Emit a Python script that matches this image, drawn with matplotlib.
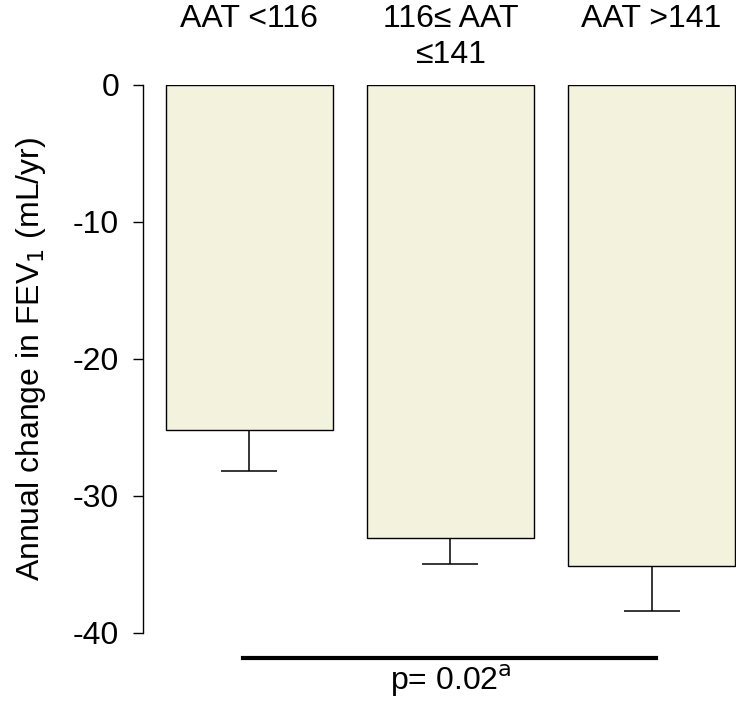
import matplotlib.pyplot as plt
from matplotlib import transforms

plt.rcParams['font.family'] = ['Liberation Sans', 'DejaVu Sans']

# data
groups = ["AAT <116", "116\u2264 AAT\n\u2264141", "AAT >141"]
change = [-25.2, -33.1, -35.1]
err = [3.0, 1.9, 3.3]
yticks = [0, -10, -20, -30, -40]
p_text = "p= 0.02$^{\\mathrm{a}}$"

fig = plt.figure(figsize=(7.36, 7.02), dpi=100)
ax = fig.add_axes([0.194, 0.0983, 0.806, 0.7807])

x = range(len(groups))
ax.bar(x, change, width=0.83, color="#f3f2dc", edgecolor="black", linewidth=1.0)
eb = ax.errorbar(x, change, yerr=[err, [0] * len(err)], fmt="none", ecolor="black",
                 elinewidth=1.1, capsize=20, capthick=1.1)
# only the lower cap is shown
eb[1][1].set_visible(False)

ax.set_xlim(-0.53, 2.42)
ax.set_ylim(-40, 0)
ax.set_yticks(yticks)
ax.set_yticklabels([str(t) for t in yticks], fontsize=23)
ax.tick_params(axis="y", length=7, width=1, pad=10)
ax.set_xticks([])
for s in ["top", "right", "bottom"]:
    ax.spines[s].set_visible(False)
ax.spines["left"].set_linewidth(1.0)

ax.set_ylabel("Annual change in FEV$_1$ (mL/yr)", fontsize=23, labelpad=18)

# group labels on top
trans = transforms.blended_transform_factory(ax.transData, fig.transFigure)
for i, g in enumerate(groups):
    ax.text(i, 0.995, g, transform=trans, ha="center", va="top", fontsize=23,
            linespacing=1.3)

# significance bar
ax.plot([-0.03, 2.02], [-41.8, -41.8], color="black", lw=3, clip_on=False)
ax.text(1.0, -42.2, p_text, ha="center", va="top", fontsize=23)

fig.savefig("out.png", dpi=100)
